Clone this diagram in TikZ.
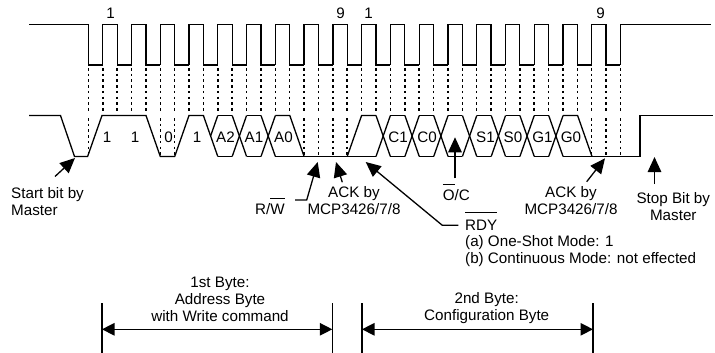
\documentclass[tikz,border=0pt]{standalone}
\usepackage{fontspec}
\setmainfont{Liberation Sans}
\usepackage{tikz}
\usetikzlibrary{arrows.meta}
\tikzstyle{wave} = [draw, line width=1.3pt]
\tikzstyle{guide} = [draw, line width=1.5pt, dash pattern=on 2.6pt off 3.1pt]
\tikzstyle{line} = [draw, line width=1.3pt, -{Triangle[length=15pt,width=13.5pt]}]
\tikzstyle{span} = [draw, line width=1.3pt, {Triangle[length=12.5pt,width=12.5pt]}-{Triangle[length=12.5pt,width=12.5pt]}]
\tikzstyle{lbl} = [inner sep=0pt, font=\fontsize{15.2}{17.2}\selectfont]
\newcommand{\lineover}[2]{\ensuremath{\overline{\mbox{#2}\rule{0pt}{#1}}}}

\begin{document}
\begin{tikzpicture}[x=1pt,y=-1pt]
\useasboundingbox (0,0) rectangle (715,353);
\draw[wave] (29,24.5) -- (88.4,24.5) -- (88.4,65) -- (102.8,65);
\foreach \x in {102.8,131.56,...,592}
  \draw[wave] (\x,65) -- (\x,24.5) -- ++(14.38,0) -- ++(0,40.5) -- ++(14.38,0);
\draw[wave] (620.6,65) -- (620.6,24.5) -- (711,24.5);
\draw (110.5,13) node[lbl] (clkone) {1};
\draw (340.7,13) node[lbl] (clknine) {9};
\draw (368.5,13) node[lbl] (clkonetwo) {1};
\draw (600.7,13) node[lbl] (clkninetwo) {9};
\foreach \k in {0,...,37} {
  \pgfmathsetmacro{\x}{88.4+14.38*\k}
  \draw[guide] (\x,68) -- (\x,113);
}
\foreach \k in {0,5,6,15,16,17,18,35,36,37} {
  \pgfmathsetmacro{\x}{88.4+14.38*\k}
  \draw[guide] (\x,118) -- (\x,155);
}
\draw[wave] (29,115.5) -- (60.5,115.5) -- (74.5,156.5) -- (87.6,156.5) -- (102,115.5) -- (146,115.5) -- (160.3,156.5) -- (174.7,156.5) -- (189,115.5) -- (203.4,115.5) -- (217.8,156.5);
\draw[wave] (210.6,136) -- (217.8,115.5);
\draw[wave] (275.4,115.5) -- (289.8,115.5) -- (304.1,156.5);
\draw[wave] (275.4,156.5) -- (376,156.5);
\draw[wave] (347.2,156.5) -- (361.6,115.5) -- (376,115.5);
\draw[wave] (563,115.5) -- (577.6,115.5) -- (592,156.5);
\draw[wave] (563,156.5) -- (640,156.5) -- (640,115.5) -- (713,115.5);
\foreach \x in {232.2,261,376,404.9,433.7,462.4,491.2,519.9,548.7} {
  \draw[wave] (\x,115.5) -- ++(14.38,41);
  \draw[wave] (\x,156.5) -- ++(14.38,-41);
}
\foreach \x in {217.8,246.6,390.4,419.2,448,476.8,505.5,534.3}
  \draw[wave] (\x,115.5) -- ++(14.38,0) (\x,156.5) -- ++(14.38,0);
\foreach \x/\bit in {107/1,135/1,168.5/0,197/1,225.5/A2,254/A1,283.5/A0,398/C1,427/C0,485.5/S1,513/S0,542.5/G1,571/G0}
  \draw (\x,137.3) node[lbl] {\bit};
\draw (11,187) node[lbl,anchor=north west,align=left] (startlabel) {Start bit by\\Master};
\draw (270,214.5) node[lbl,anchor=base] (rwlabel) {R/\lineover{15pt}{W}};
\draw (354,186) node[lbl,anchor=north,align=center] (ackaddr) {ACK by\\MCP3426/7/8};
\draw (456.3,200.5) node[lbl,anchor=base] (oclabel) {\lineover{15pt}{O}/C};
\draw (465,230.5) node[lbl,anchor=base west] (rdylabel) {\lineover{17pt}{RDY}};
\draw (465,242.3) node[lbl,anchor=west] (rdyone) {(a) One-Shot Mode: 1};
\draw (465,259.3) node[lbl,anchor=west] (rdytwo) {(b) Continuous Mode: not effected};
\draw (571,186) node[lbl,anchor=north,align=center] (ackconf) {ACK by\\MCP3426/7/8};
\draw (673.3,192) node[lbl,anchor=north,align=center] (stoplabel) {Stop Bit by\\Master};
\draw (220,276.5) node[lbl,anchor=north,align=center] (firstbyte) {1st Byte:\\Address Byte\\with Write command};
\draw (486.7,292.5) node[lbl,anchor=north,align=center] (secondbyte) {2nd Byte:\\Configuration Byte};
\coordinate (starttail) at (55,176.5);
\coordinate (starttip) at (75,158);
\coordinate (rwtail) at (295,200);
\coordinate (rwknee) at (306.7,200);
\coordinate (rwtip) at (317.7,162);
\coordinate (acktail) at (342.3,182.3);
\coordinate (acktip) at (336,162);
\coordinate (rdytail) at (458.3,225.3);
\coordinate (rdyknee) at (442.3,225.3);
\coordinate (rdytip) at (365.7,162);
\coordinate (octail) at (455,178.3);
\coordinate (octip) at (455,137.3);
\coordinate (confacktail) at (586.7,181.7);
\coordinate (confacktip) at (605,158.3);
\coordinate (stoptail) at (654.5,184);
\coordinate (stoptip) at (654.5,157);
\draw[line] (starttail) -- (starttip);
\draw[line] (rwtail) -- (rwknee) -- (rwtip);
\draw[line] (acktail) -- (acktip);
\draw[line] (rdytail) -- (rdyknee) -- (rdytip);
\draw[line] (octail) -- (octip);
\draw[line] (confacktail) -- (confacktip);
\draw[line] (stoptail) -- (stoptip);
\coordinate (firsta) at (102,303);
\coordinate (firstb) at (102,353);
\coordinate (firstc) at (332.3,303);
\coordinate (firstd) at (332.3,353);
\coordinate (seconda) at (362,303);
\coordinate (secondb) at (362,353);
\coordinate (secondc) at (593,303);
\coordinate (secondd) at (593,353);
\coordinate (firstl) at (102,329.3);
\coordinate (firstr) at (332.3,329.3);
\coordinate (secondl) at (362,329.3);
\coordinate (secondr) at (593,329.3);
\draw[wave] (firsta) -- (firstb);
\draw[wave] (firstc) -- (firstd);
\draw[wave] (seconda) -- (secondb);
\draw[wave] (secondc) -- (secondd);
\draw[span] (firstl) -- (firstr);
\draw[span] (secondl) -- (secondr);
\end{tikzpicture}
\end{document}
